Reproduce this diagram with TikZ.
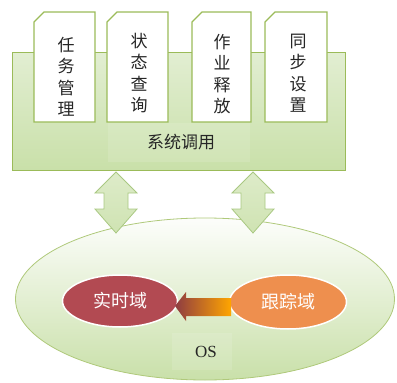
\documentclass[tikz,border=0pt]{standalone}
\usepackage{fontspec}
\newfontfamily\cjk{Noto Sans CJK SC}
\setmainfont{Liberation Serif}
\usetikzlibrary{shapes.geometric}
\definecolor{gborder}{HTML}{9BBB59}
\definecolor{gtop}{HTML}{E2EED2}
\definecolor{gbot}{HTML}{C9E0A9}
\definecolor{arrfill}{HTML}{CFE3B2}
\definecolor{arrline}{HTML}{A9C882}
\definecolor{redfill}{HTML}{B24A52}
\definecolor{orgfill}{HTML}{EE8F4E}
\definecolor{txt}{HTML}{262626}
\tikzset{
  panel/.style={draw=gborder, line width=1pt, top color=gtop, bottom color=gbot},
  card/.style={draw=gborder, line width=1.2pt, fill=white},
  cardtext/.style={font=\cjk\fontsize{17}{21.5}\selectfont, text=txt, align=center, inner sep=0pt},
  blockarrow/.style={draw=arrline, line width=0.8pt, top color=arrfill!70!white, bottom color=arrfill},
  domainnode/.style={ellipse, draw=white, line width=1.5pt, text=white, font=\cjk\fontsize{18}{20}\selectfont},
}
\begin{document}
\begin{tikzpicture}[x=1pt,y=-1pt]
\useasboundingbox (0,0) rectangle (397,383);
% main panel
\draw[panel] (12,52) rectangle (345,170);
\fill[white,opacity=0.12] (108,123) rectangle (250,162);
% cards
\foreach \xa/\xb in {34/95,107/168,192/251,265/327}{
  \draw[card] (\xa,22) -- (\xa+10,12) -- (\xb,12) -- (\xb,122) -- (\xa,122) -- cycle;
}
\node[cardtext] (c1) at (66,77) {任\\务\\管\\理};
\node[cardtext] (c2) at (139,73) {状\\态\\查\\询};
\node[cardtext] (c3) at (222,74) {作\\业\\释\\放};
\node[cardtext] (c4) at (298,73) {同\\步\\设\\置};
\node[cardtext] (sys) at (181,142) {系统调用};
% big ellipse
\node[ellipse, draw=gborder!80, line width=0.8pt, top color=white!92!gtop, bottom color=gbot, minimum width=379pt, minimum height=162pt, inner sep=0pt] (os) at (205,299) {};
\fill[white,opacity=0.12] (172,333) rectangle (232,370);
\node[font=\fontsize{17}{19}\selectfont, text=txt] (oslabel) at (206,352) {OS};
% double arrows
\foreach \cx in {116,253}{
  \draw[blockarrow] (\cx,172) -- (\cx+21,193) -- (\cx+12,193) -- (\cx+12,209) -- (\cx+21,209)
     -- (\cx,233) -- (\cx-21,209) -- (\cx-12,209) -- (\cx-12,193) -- (\cx-21,193) -- cycle;
}
% inner domains
\node[domainnode, fill=redfill, minimum width=115pt, minimum height=52pt, inner sep=0pt] (rt) at (120,301) {实时域};
\node[domainnode, fill=orgfill, minimum width=117pt, minimum height=54pt, inner sep=0pt] (tr) at (288,302) {跟踪域};
% gradient arrow
\shade[left color=redfill!80!black, right color=orange!70!yellow]
  (175,306) -- (186,292) -- (186,298) -- (231,298) -- (231,316) -- (186,316) -- (186,321) -- cycle;
\end{tikzpicture}
\end{document}
